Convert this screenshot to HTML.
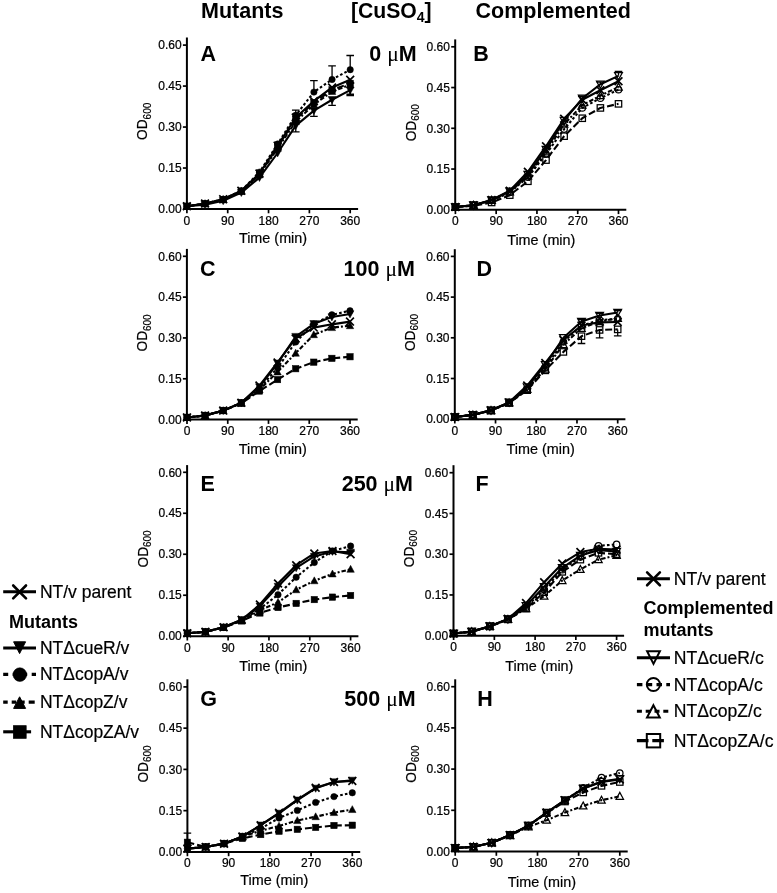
<!DOCTYPE html>
<html><head><meta charset="utf-8"><title>Growth curves</title><style>
html,body{margin:0;padding:0;background:#fff;}
svg{display:block;will-change:transform;}
text{font-family:"Liberation Sans",sans-serif;fill:#000;}
.tk{font-size:12px;stroke:#000;stroke-width:0.22px;}
.at{font-size:14.4px;stroke:#000;stroke-width:0.2px;}
.pl{font-size:21.5px;font-weight:bold;}
.mu{font-family:"Liberation Serif",serif;font-weight:normal;}
.tt{font-size:21.5px;font-weight:bold;}
.lg{font-size:17.5px;stroke:#000;stroke-width:0.2px;}
.lgr{font-size:17.6px;stroke:#000;stroke-width:0.2px;}
.lgb{font-size:18px;font-weight:bold;}
</style></head>
<body><svg width="777" height="893" viewBox="0 0 777 893">
<rect width="777" height="893" fill="#fff"/>
<text x="201" y="18.3" class="tt">Mutants</text><text x="350.9" y="18.3" class="tt" style="font-size:21.2px">[CuSO<tspan font-size="14" dy="4">4</tspan><tspan dy="-4">]</tspan></text><text x="475.6" y="18.3" class="tt">Complemented</text>
<text x="200.6" y="60.6" class="pl">A</text>
<text x="369.3" y="60.6" class="pl">0 <tspan class="mu">&#956;</tspan>M</text>
<text x="473.2" y="60.6" class="pl">B</text>
<text x="200.0" y="276.4" class="pl">C</text>
<text x="343.6" y="276.4" class="pl">100 <tspan class="mu">&#956;</tspan>M</text>
<text x="476.5" y="276.4" class="pl">D</text>
<text x="200.6" y="490.6" class="pl">E</text>
<text x="341.7" y="490.6" class="pl">250 <tspan class="mu">&#956;</tspan>M</text>
<text x="475.4" y="490.6" class="pl">F</text>
<text x="200.3" y="705.8" class="pl">G</text>
<text x="344.3" y="705.8" class="pl">500 <tspan class="mu">&#956;</tspan>M</text>
<text x="477.3" y="705.9" class="pl">H</text>
<path d="M3.2 591.8H36" stroke="#000" stroke-width="3.1"/>
<path d="M13.200000000000001 585.5L26.0 598.3M13.200000000000001 598.3L26.0 585.5" stroke="#000" stroke-width="2.6" stroke-linecap="round" fill="none"/>
<text x="39.9" y="597.9" class="lg">NT/v parent</text>
<text x="9" y="627.5" class="lgb">Mutants</text>
<path d="M3.2 648.0H36" stroke="#000" stroke-width="3.1"/>
<path d="M13.600000000000001 641.8H25.6L19.6 653.6Z" fill="#000" stroke="#000" stroke-width="1.0" stroke-linejoin="miter"/>
<text x="39.9" y="653.7" class="lg">NT&#916;cueR/v</text>
<path d="M3.2 674.4H36" stroke="#000" stroke-width="3.1" stroke-dasharray="5 4.5"/>
<circle cx="19.85" cy="674.6" r="6.8" fill="#000" stroke="#000" stroke-width="0.6"/>
<text x="39.9" y="680.3" class="lg">NT&#916;copA/v</text>
<path d="M3.2 702.1H34.7" stroke="#000" stroke-width="3.1" stroke-dasharray="4.5 4 4.5 4 4.5 4 6.3"/>
<path d="M13.600000000000001 708.4H25.6L19.6 696.8Z" fill="#000" stroke="#000" stroke-width="1.0" stroke-linejoin="miter"/>
<text x="39.9" y="708.1" class="lg">NT&#916;copZ/v</text>
<path d="M3.2 731.8H31.1" stroke="#000" stroke-width="3.1"/>
<rect x="13.55" y="725.7" width="12.6" height="12.6" fill="#000" stroke="#000" stroke-width="0.8"/>
<text x="39.9" y="737.7" class="lg">NT&#916;copZA/v</text>
<path d="M637.0 578.8H669.9" stroke="#000" stroke-width="3.1"/>
<path d="M647.1 572.45L659.9 585.25M647.1 585.25L659.9 572.45" stroke="#000" stroke-width="2.6" stroke-linecap="round" fill="none"/>
<text x="673.8" y="584.5" class="lgr">NT/v parent</text>
<text x="643.5" y="613.6" class="lgb">Complemented</text>
<text x="643.5" y="635.5" class="lgb">mutants</text>
<path d="M636.9 657.7H670.0" stroke="#000" stroke-width="3.1"/>
<path d="M647.1 651.2H659.9L653.5 663.9000000000001Z" fill="none" stroke="#000" stroke-width="2.0" stroke-linejoin="miter"/>
<text x="673.8" y="664.0" class="lgr">NT&#916;cueR/c</text>
<path d="M636.9 684.6H670.0" stroke="#000" stroke-width="3.1" stroke-dasharray="5.5 4.3"/>
<circle cx="653.4" cy="684.5" r="6.6" fill="none" stroke="#000" stroke-width="2.0"/>
<text x="673.8" y="690.6" class="lgr">NT&#916;copA/c</text>
<path d="M636.9 711.3H668.5" stroke="#000" stroke-width="3.1" stroke-dasharray="5 3.8"/>
<path d="M647.0 717.5999999999999H659.8L653.4 705.1999999999999Z" fill="none" stroke="#000" stroke-width="2.0" stroke-linejoin="miter"/>
<text x="673.8" y="717.0" class="lgr">NT&#916;copZ/c</text>
<path d="M636.9 740.6H665.0" stroke="#000" stroke-width="3.1" stroke-dasharray="11.6 3.8"/>
<rect x="646.8" y="734.0" width="13.4" height="13.4" fill="none" stroke="#000" stroke-width="2.0"/>
<text x="673.8" y="747.3" class="lgr">NT&#916;copZA/c</text>
<path d="M186.90 37.50V210.00" stroke="#000" stroke-width="2" fill="none"/>
<path d="M185.90 209.00H358.10" stroke="#000" stroke-width="2" fill="none"/>
<path d="M182.90 209.00H186.90" stroke="#000" stroke-width="1.7"/>
<text x="181.60" y="213.20" class="tk" text-anchor="end">0.00</text>
<path d="M182.90 168.03H186.90" stroke="#000" stroke-width="1.7"/>
<text x="181.60" y="172.22" class="tk" text-anchor="end">0.15</text>
<path d="M182.90 127.05H186.90" stroke="#000" stroke-width="1.7"/>
<text x="181.60" y="131.25" class="tk" text-anchor="end">0.30</text>
<path d="M182.90 86.07H186.90" stroke="#000" stroke-width="1.7"/>
<text x="181.60" y="90.27" class="tk" text-anchor="end">0.45</text>
<path d="M182.90 45.10H186.90" stroke="#000" stroke-width="1.7"/>
<text x="181.60" y="49.30" class="tk" text-anchor="end">0.60</text>
<path d="M186.90 209.00V213.30" stroke="#000" stroke-width="1.7"/>
<text x="186.90" y="224.50" class="tk" text-anchor="middle">0</text>
<path d="M227.72 209.00V213.30" stroke="#000" stroke-width="1.7"/>
<text x="227.72" y="224.50" class="tk" text-anchor="middle">90</text>
<path d="M268.55 209.00V213.30" stroke="#000" stroke-width="1.7"/>
<text x="268.55" y="224.50" class="tk" text-anchor="middle">180</text>
<path d="M309.38 209.00V213.30" stroke="#000" stroke-width="1.7"/>
<text x="309.38" y="224.50" class="tk" text-anchor="middle">270</text>
<path d="M350.20 209.00V213.30" stroke="#000" stroke-width="1.7"/>
<text x="350.20" y="224.50" class="tk" text-anchor="middle">360</text>
<text x="273.00" y="243.40" class="at" text-anchor="middle">Time (min)</text>
<text transform="translate(147.30 139.90) rotate(-90) scale(0.95 1)" class="at">OD<tspan font-size="10.5" dy="3.2">600</tspan></text>
<path d="M186.90 206.27L205.04 203.54L223.19 199.17L241.33 190.70L259.48 173.49L277.62 145.63L295.77 117.49L313.91 101.10L332.06 87.44L350.20 79.79" stroke="#000" stroke-width="2.1" fill="none" stroke-linejoin="round"/>
<path d="M186.90 206.27L205.04 204.63L223.19 200.81L241.33 192.61L259.48 177.59L277.62 153.00L295.77 125.68L313.91 110.66L332.06 99.73L350.20 90.17" stroke="#000" stroke-width="2.1" fill="none" stroke-linejoin="round"/>
<path d="M186.90 206.27L205.04 203.54L223.19 199.17L241.33 190.70L259.48 172.12L277.62 143.99L295.77 115.30L313.91 92.08L332.06 79.52L350.20 69.68" stroke="#000" stroke-width="2.1" fill="none" stroke-linejoin="round" stroke-dasharray="2.6 2.2"/>
<path d="M186.90 206.27L205.04 203.54L223.19 199.44L241.33 191.24L259.48 174.85L277.62 148.36L295.77 121.59L313.91 104.65L332.06 91.54L350.20 84.71" stroke="#000" stroke-width="2.1" fill="none" stroke-linejoin="round" stroke-dasharray="4.5 2 2 2"/>
<path d="M186.90 206.27L205.04 203.81L223.19 199.71L241.33 191.24L259.48 174.31L277.62 146.72L295.77 119.40L313.91 102.46L332.06 89.90L350.20 83.34" stroke="#000" stroke-width="2.1" fill="none" stroke-linejoin="round" stroke-dasharray="7 3"/>
<path d="M295.77 115.30V110.11M291.97 110.11H299.57" stroke="#000" stroke-width="1.3" fill="none"/>
<path d="M313.91 92.08V80.61M310.11 80.61H317.71" stroke="#000" stroke-width="1.3" fill="none"/>
<path d="M332.06 79.52V65.86M328.26 65.86H335.86" stroke="#000" stroke-width="1.3" fill="none"/>
<path d="M350.20 69.68V55.48M346.40 55.48H354.00" stroke="#000" stroke-width="1.3" fill="none"/>
<path d="M295.77 125.68V131.97M291.97 131.97H299.57" stroke="#000" stroke-width="1.3" fill="none"/>
<path d="M313.91 110.66V116.40M310.11 116.40H317.71" stroke="#000" stroke-width="1.3" fill="none"/>
<path d="M332.06 99.73V105.47M328.26 105.47H335.86" stroke="#000" stroke-width="1.3" fill="none"/>
<path d="M350.20 90.17V94.27M346.40 94.27H354.00" stroke="#000" stroke-width="1.3" fill="none"/>
<path d="M350.20 83.34V95.64M346.40 95.64H354.00" stroke="#000" stroke-width="1.3" fill="none"/>
<rect x="183.70" y="203.07" width="6.40" height="6.40" fill="#000" stroke="#000" stroke-width="0.50"/>
<rect x="201.84" y="200.61" width="6.40" height="6.40" fill="#000" stroke="#000" stroke-width="0.50"/>
<rect x="219.99" y="196.51" width="6.40" height="6.40" fill="#000" stroke="#000" stroke-width="0.50"/>
<rect x="238.13" y="188.04" width="6.40" height="6.40" fill="#000" stroke="#000" stroke-width="0.50"/>
<rect x="256.28" y="171.11" width="6.40" height="6.40" fill="#000" stroke="#000" stroke-width="0.50"/>
<rect x="274.42" y="143.52" width="6.40" height="6.40" fill="#000" stroke="#000" stroke-width="0.50"/>
<rect x="292.57" y="116.20" width="6.40" height="6.40" fill="#000" stroke="#000" stroke-width="0.50"/>
<rect x="310.71" y="99.26" width="6.40" height="6.40" fill="#000" stroke="#000" stroke-width="0.50"/>
<rect x="328.86" y="86.70" width="6.40" height="6.40" fill="#000" stroke="#000" stroke-width="0.50"/>
<rect x="347.00" y="80.14" width="6.40" height="6.40" fill="#000" stroke="#000" stroke-width="0.50"/>
<path d="M183.20 209.27L190.60 209.27L186.90 202.37Z" fill="#000" stroke="#000" stroke-width="0.50"/>
<path d="M201.34 206.54L208.74 206.54L205.04 199.64Z" fill="#000" stroke="#000" stroke-width="0.50"/>
<path d="M219.49 202.44L226.89 202.44L223.19 195.54Z" fill="#000" stroke="#000" stroke-width="0.50"/>
<path d="M237.63 194.24L245.03 194.24L241.33 187.34Z" fill="#000" stroke="#000" stroke-width="0.50"/>
<path d="M255.78 177.85L263.18 177.85L259.48 170.95Z" fill="#000" stroke="#000" stroke-width="0.50"/>
<path d="M273.92 151.36L281.32 151.36L277.62 144.46Z" fill="#000" stroke="#000" stroke-width="0.50"/>
<path d="M292.07 124.59L299.47 124.59L295.77 117.69Z" fill="#000" stroke="#000" stroke-width="0.50"/>
<path d="M310.21 107.65L317.61 107.65L313.91 100.75Z" fill="#000" stroke="#000" stroke-width="0.50"/>
<path d="M328.36 94.54L335.76 94.54L332.06 87.64Z" fill="#000" stroke="#000" stroke-width="0.50"/>
<path d="M346.50 87.71L353.90 87.71L350.20 80.81Z" fill="#000" stroke="#000" stroke-width="0.50"/>
<circle cx="186.90" cy="206.27" r="3.20" fill="#000" stroke="#000" stroke-width="0.50"/>
<circle cx="205.04" cy="203.54" r="3.20" fill="#000" stroke="#000" stroke-width="0.50"/>
<circle cx="223.19" cy="199.17" r="3.20" fill="#000" stroke="#000" stroke-width="0.50"/>
<circle cx="241.33" cy="190.70" r="3.20" fill="#000" stroke="#000" stroke-width="0.50"/>
<circle cx="259.48" cy="172.12" r="3.20" fill="#000" stroke="#000" stroke-width="0.50"/>
<circle cx="277.62" cy="143.99" r="3.20" fill="#000" stroke="#000" stroke-width="0.50"/>
<circle cx="295.77" cy="115.30" r="3.20" fill="#000" stroke="#000" stroke-width="0.50"/>
<circle cx="313.91" cy="92.08" r="3.20" fill="#000" stroke="#000" stroke-width="0.50"/>
<circle cx="332.06" cy="79.52" r="3.20" fill="#000" stroke="#000" stroke-width="0.50"/>
<circle cx="350.20" cy="69.68" r="3.20" fill="#000" stroke="#000" stroke-width="0.50"/>
<path d="M183.00 203.07L190.80 203.07L186.90 210.17Z" fill="#000" stroke="#000" stroke-width="0.50"/>
<path d="M201.14 201.43L208.94 201.43L205.04 208.53Z" fill="#000" stroke="#000" stroke-width="0.50"/>
<path d="M219.29 197.61L227.09 197.61L223.19 204.71Z" fill="#000" stroke="#000" stroke-width="0.50"/>
<path d="M237.43 189.41L245.23 189.41L241.33 196.51Z" fill="#000" stroke="#000" stroke-width="0.50"/>
<path d="M255.58 174.39L263.38 174.39L259.48 181.49Z" fill="#000" stroke="#000" stroke-width="0.50"/>
<path d="M273.72 149.80L281.52 149.80L277.62 156.90Z" fill="#000" stroke="#000" stroke-width="0.50"/>
<path d="M291.87 122.48L299.67 122.48L295.77 129.58Z" fill="#000" stroke="#000" stroke-width="0.50"/>
<path d="M310.01 107.46L317.81 107.46L313.91 114.56Z" fill="#000" stroke="#000" stroke-width="0.50"/>
<path d="M328.16 96.53L335.96 96.53L332.06 103.63Z" fill="#000" stroke="#000" stroke-width="0.50"/>
<path d="M346.30 86.97L354.10 86.97L350.20 94.07Z" fill="#000" stroke="#000" stroke-width="0.50"/>
<path d="M183.00 202.37L190.80 210.17M183.00 210.17L190.80 202.37" stroke="#000" stroke-width="1.70" fill="none"/>
<path d="M201.14 199.64L208.94 207.44M201.14 207.44L208.94 199.64" stroke="#000" stroke-width="1.70" fill="none"/>
<path d="M219.29 195.27L227.09 203.07M219.29 203.07L227.09 195.27" stroke="#000" stroke-width="1.70" fill="none"/>
<path d="M237.43 186.80L245.23 194.60M237.43 194.60L245.23 186.80" stroke="#000" stroke-width="1.70" fill="none"/>
<path d="M255.58 169.59L263.38 177.39M255.58 177.39L263.38 169.59" stroke="#000" stroke-width="1.70" fill="none"/>
<path d="M273.72 141.73L281.52 149.53M273.72 149.53L281.52 141.73" stroke="#000" stroke-width="1.70" fill="none"/>
<path d="M291.87 113.59L299.67 121.39M291.87 121.39L299.67 113.59" stroke="#000" stroke-width="1.70" fill="none"/>
<path d="M310.01 97.20L317.81 105.00M310.01 105.00L317.81 97.20" stroke="#000" stroke-width="1.70" fill="none"/>
<path d="M328.16 83.54L335.96 91.34M328.16 91.34L335.96 83.54" stroke="#000" stroke-width="1.70" fill="none"/>
<path d="M346.30 75.89L354.10 83.69M346.30 83.69L354.10 75.89" stroke="#000" stroke-width="1.70" fill="none"/>
<path d="M455.20 39.40V210.80" stroke="#000" stroke-width="2" fill="none"/>
<path d="M454.20 209.80H626.30" stroke="#000" stroke-width="2" fill="none"/>
<path d="M451.20 209.80H455.20" stroke="#000" stroke-width="1.7"/>
<text x="449.90" y="214.00" class="tk" text-anchor="end">0.00</text>
<path d="M451.20 169.05H455.20" stroke="#000" stroke-width="1.7"/>
<text x="449.90" y="173.25" class="tk" text-anchor="end">0.15</text>
<path d="M451.20 128.30H455.20" stroke="#000" stroke-width="1.7"/>
<text x="449.90" y="132.50" class="tk" text-anchor="end">0.30</text>
<path d="M451.20 87.55H455.20" stroke="#000" stroke-width="1.7"/>
<text x="449.90" y="91.75" class="tk" text-anchor="end">0.45</text>
<path d="M451.20 46.80H455.20" stroke="#000" stroke-width="1.7"/>
<text x="449.90" y="51.00" class="tk" text-anchor="end">0.60</text>
<path d="M455.40 209.80V214.10" stroke="#000" stroke-width="1.7"/>
<text x="455.40" y="225.30" class="tk" text-anchor="middle">0</text>
<path d="M496.17 209.80V214.10" stroke="#000" stroke-width="1.7"/>
<text x="496.17" y="225.30" class="tk" text-anchor="middle">90</text>
<path d="M536.95 209.80V214.10" stroke="#000" stroke-width="1.7"/>
<text x="536.95" y="225.30" class="tk" text-anchor="middle">180</text>
<path d="M577.73 209.80V214.10" stroke="#000" stroke-width="1.7"/>
<text x="577.73" y="225.30" class="tk" text-anchor="middle">270</text>
<path d="M618.50 209.80V214.10" stroke="#000" stroke-width="1.7"/>
<text x="618.50" y="225.30" class="tk" text-anchor="middle">360</text>
<text x="541.25" y="244.50" class="at" text-anchor="middle">Time (min)</text>
<text transform="translate(415.60 141.30) rotate(-90) scale(0.95 1)" class="at">OD<tspan font-size="10.5" dy="3.2">600</tspan></text>
<path d="M455.40 207.08L473.52 205.18L491.64 200.02L509.77 190.78L527.89 171.77L546.01 146.23L564.13 118.79L582.26 99.77L600.38 90.27L618.50 81.30" stroke="#000" stroke-width="2.1" fill="none" stroke-linejoin="round"/>
<path d="M455.40 207.08L473.52 205.18L491.64 200.02L509.77 191.33L527.89 174.48L546.01 149.49L564.13 120.69L582.26 98.42L600.38 84.29L618.50 75.87" stroke="#000" stroke-width="2.1" fill="none" stroke-linejoin="round"/>
<path d="M455.40 207.08L473.52 205.18L491.64 200.56L509.77 192.41L527.89 177.20L546.01 154.11L564.13 129.12L582.26 107.93L600.38 98.15L618.50 89.72" stroke="#000" stroke-width="2.1" fill="none" stroke-linejoin="round" stroke-dasharray="2.6 2.2"/>
<path d="M455.40 207.08L473.52 205.18L491.64 200.29L509.77 191.87L527.89 175.84L546.01 151.94L564.13 124.23L582.26 105.21L600.38 95.70L618.50 87.01" stroke="#000" stroke-width="2.1" fill="none" stroke-linejoin="round" stroke-dasharray="4.5 2 2 2"/>
<path d="M455.40 207.08L473.52 205.73L491.64 202.47L509.77 195.13L527.89 181.28L546.01 160.09L564.13 136.18L582.26 118.25L600.38 107.93L618.50 103.85" stroke="#000" stroke-width="2.1" fill="none" stroke-linejoin="round" stroke-dasharray="7 3"/>
<path d="M618.50 75.87V71.52M614.70 71.52H622.30" stroke="#000" stroke-width="1.3" fill="none"/>
<path d="M600.38 84.29V82.12M596.58 82.12H604.18" stroke="#000" stroke-width="1.3" fill="none"/>
<path d="M582.26 98.42V96.24M578.46 96.24H586.06" stroke="#000" stroke-width="1.3" fill="none"/>
<rect x="452.20" y="203.88" width="6.40" height="6.40" fill="none" stroke="#000" stroke-width="1.25"/>
<rect x="470.32" y="202.53" width="6.40" height="6.40" fill="none" stroke="#000" stroke-width="1.25"/>
<rect x="488.44" y="199.27" width="6.40" height="6.40" fill="none" stroke="#000" stroke-width="1.25"/>
<rect x="506.57" y="191.93" width="6.40" height="6.40" fill="none" stroke="#000" stroke-width="1.25"/>
<rect x="524.69" y="178.08" width="6.40" height="6.40" fill="none" stroke="#000" stroke-width="1.25"/>
<rect x="542.81" y="156.89" width="6.40" height="6.40" fill="none" stroke="#000" stroke-width="1.25"/>
<rect x="560.93" y="132.98" width="6.40" height="6.40" fill="none" stroke="#000" stroke-width="1.25"/>
<rect x="579.06" y="115.05" width="6.40" height="6.40" fill="none" stroke="#000" stroke-width="1.25"/>
<rect x="597.18" y="104.73" width="6.40" height="6.40" fill="none" stroke="#000" stroke-width="1.25"/>
<rect x="615.30" y="100.65" width="6.40" height="6.40" fill="none" stroke="#000" stroke-width="1.25"/>
<path d="M451.70 210.08L459.10 210.08L455.40 203.18Z" fill="none" stroke="#000" stroke-width="1.25"/>
<path d="M469.82 208.18L477.22 208.18L473.52 201.28Z" fill="none" stroke="#000" stroke-width="1.25"/>
<path d="M487.94 203.29L495.34 203.29L491.64 196.39Z" fill="none" stroke="#000" stroke-width="1.25"/>
<path d="M506.07 194.87L513.47 194.87L509.77 187.97Z" fill="none" stroke="#000" stroke-width="1.25"/>
<path d="M524.19 178.84L531.59 178.84L527.89 171.94Z" fill="none" stroke="#000" stroke-width="1.25"/>
<path d="M542.31 154.94L549.71 154.94L546.01 148.03Z" fill="none" stroke="#000" stroke-width="1.25"/>
<path d="M560.43 127.23L567.83 127.23L564.13 120.33Z" fill="none" stroke="#000" stroke-width="1.25"/>
<path d="M578.56 108.21L585.96 108.21L582.26 101.31Z" fill="none" stroke="#000" stroke-width="1.25"/>
<path d="M596.68 98.70L604.08 98.70L600.38 91.80Z" fill="none" stroke="#000" stroke-width="1.25"/>
<path d="M614.80 90.01L622.20 90.01L618.50 83.11Z" fill="none" stroke="#000" stroke-width="1.25"/>
<circle cx="455.40" cy="207.08" r="3.20" fill="none" stroke="#000" stroke-width="1.25"/>
<circle cx="473.52" cy="205.18" r="3.20" fill="none" stroke="#000" stroke-width="1.25"/>
<circle cx="491.64" cy="200.56" r="3.20" fill="none" stroke="#000" stroke-width="1.25"/>
<circle cx="509.77" cy="192.41" r="3.20" fill="none" stroke="#000" stroke-width="1.25"/>
<circle cx="527.89" cy="177.20" r="3.20" fill="none" stroke="#000" stroke-width="1.25"/>
<circle cx="546.01" cy="154.11" r="3.20" fill="none" stroke="#000" stroke-width="1.25"/>
<circle cx="564.13" cy="129.12" r="3.20" fill="none" stroke="#000" stroke-width="1.25"/>
<circle cx="582.26" cy="107.93" r="3.20" fill="none" stroke="#000" stroke-width="1.25"/>
<circle cx="600.38" cy="98.15" r="3.20" fill="none" stroke="#000" stroke-width="1.25"/>
<circle cx="618.50" cy="89.72" r="3.20" fill="none" stroke="#000" stroke-width="1.25"/>
<path d="M451.50 203.88L459.30 203.88L455.40 210.98Z" fill="none" stroke="#000" stroke-width="1.25"/>
<path d="M469.62 201.98L477.42 201.98L473.52 209.08Z" fill="none" stroke="#000" stroke-width="1.25"/>
<path d="M487.74 196.82L495.54 196.82L491.64 203.92Z" fill="none" stroke="#000" stroke-width="1.25"/>
<path d="M505.87 188.13L513.67 188.13L509.77 195.23Z" fill="none" stroke="#000" stroke-width="1.25"/>
<path d="M523.99 171.28L531.79 171.28L527.89 178.38Z" fill="none" stroke="#000" stroke-width="1.25"/>
<path d="M542.11 146.29L549.91 146.29L546.01 153.39Z" fill="none" stroke="#000" stroke-width="1.25"/>
<path d="M560.23 117.49L568.03 117.49L564.13 124.59Z" fill="none" stroke="#000" stroke-width="1.25"/>
<path d="M578.36 95.22L586.16 95.22L582.26 102.32Z" fill="none" stroke="#000" stroke-width="1.25"/>
<path d="M596.48 81.09L604.28 81.09L600.38 88.19Z" fill="none" stroke="#000" stroke-width="1.25"/>
<path d="M614.60 72.67L622.40 72.67L618.50 79.77Z" fill="none" stroke="#000" stroke-width="1.25"/>
<path d="M451.50 203.18L459.30 210.98M451.50 210.98L459.30 203.18" stroke="#000" stroke-width="1.70" fill="none"/>
<path d="M469.62 201.28L477.42 209.08M469.62 209.08L477.42 201.28" stroke="#000" stroke-width="1.70" fill="none"/>
<path d="M487.74 196.12L495.54 203.92M487.74 203.92L495.54 196.12" stroke="#000" stroke-width="1.70" fill="none"/>
<path d="M505.87 186.88L513.67 194.68M505.87 194.68L513.67 186.88" stroke="#000" stroke-width="1.70" fill="none"/>
<path d="M523.99 167.87L531.79 175.67M523.99 175.67L531.79 167.87" stroke="#000" stroke-width="1.70" fill="none"/>
<path d="M542.11 142.33L549.91 150.13M542.11 150.13L549.91 142.33" stroke="#000" stroke-width="1.70" fill="none"/>
<path d="M560.23 114.89L568.03 122.69M560.23 122.69L568.03 114.89" stroke="#000" stroke-width="1.70" fill="none"/>
<path d="M578.36 95.87L586.16 103.67M578.36 103.67L586.16 95.87" stroke="#000" stroke-width="1.70" fill="none"/>
<path d="M596.48 86.37L604.28 94.17M596.48 94.17L604.28 86.37" stroke="#000" stroke-width="1.70" fill="none"/>
<path d="M614.60 77.40L622.40 85.20M614.60 85.20L622.40 77.40" stroke="#000" stroke-width="1.70" fill="none"/>
<path d="M186.90 248.90V420.60" stroke="#000" stroke-width="2" fill="none"/>
<path d="M185.90 419.60H357.70" stroke="#000" stroke-width="2" fill="none"/>
<path d="M182.90 419.60H186.90" stroke="#000" stroke-width="1.7"/>
<text x="181.60" y="423.80" class="tk" text-anchor="end">0.00</text>
<path d="M182.90 378.78H186.90" stroke="#000" stroke-width="1.7"/>
<text x="181.60" y="382.98" class="tk" text-anchor="end">0.15</text>
<path d="M182.90 337.95H186.90" stroke="#000" stroke-width="1.7"/>
<text x="181.60" y="342.15" class="tk" text-anchor="end">0.30</text>
<path d="M182.90 297.12H186.90" stroke="#000" stroke-width="1.7"/>
<text x="181.60" y="301.32" class="tk" text-anchor="end">0.45</text>
<path d="M182.90 256.30H186.90" stroke="#000" stroke-width="1.7"/>
<text x="181.60" y="260.50" class="tk" text-anchor="end">0.60</text>
<path d="M187.00 419.60V423.90" stroke="#000" stroke-width="1.7"/>
<text x="187.00" y="435.10" class="tk" text-anchor="middle">0</text>
<path d="M227.75 419.60V423.90" stroke="#000" stroke-width="1.7"/>
<text x="227.75" y="435.10" class="tk" text-anchor="middle">90</text>
<path d="M268.50 419.60V423.90" stroke="#000" stroke-width="1.7"/>
<text x="268.50" y="435.10" class="tk" text-anchor="middle">180</text>
<path d="M309.25 419.60V423.90" stroke="#000" stroke-width="1.7"/>
<text x="309.25" y="435.10" class="tk" text-anchor="middle">270</text>
<path d="M350.00 419.60V423.90" stroke="#000" stroke-width="1.7"/>
<text x="350.00" y="435.10" class="tk" text-anchor="middle">360</text>
<text x="272.80" y="454.10" class="at" text-anchor="middle">Time (min)</text>
<text transform="translate(147.30 351.50) rotate(-90) scale(0.95 1)" class="at">OD<tspan font-size="10.5" dy="3.2">600</tspan></text>
<path d="M187.00 417.42L205.11 415.52L223.22 410.62L241.33 402.73L259.44 385.58L277.56 362.45L295.67 338.49L313.78 327.61L331.89 324.34L350.00 321.62" stroke="#000" stroke-width="2.1" fill="none" stroke-linejoin="round"/>
<path d="M187.00 417.42L205.11 415.52L223.22 410.62L241.33 402.73L259.44 386.94L277.56 363.26L295.67 336.59L313.78 323.80L331.89 316.99L350.00 314.00" stroke="#000" stroke-width="2.1" fill="none" stroke-linejoin="round"/>
<path d="M187.00 417.42L205.11 415.52L223.22 410.62L241.33 402.73L259.44 388.30L277.56 367.89L295.67 342.03L313.78 324.07L331.89 314.82L350.00 310.73" stroke="#000" stroke-width="2.1" fill="none" stroke-linejoin="round" stroke-dasharray="2.6 2.2"/>
<path d="M187.00 417.42L205.11 415.52L223.22 410.62L241.33 403.27L259.44 389.66L277.56 371.97L295.67 353.19L313.78 334.68L331.89 327.61L350.00 325.70" stroke="#000" stroke-width="2.1" fill="none" stroke-linejoin="round" stroke-dasharray="4.5 2 2 2"/>
<path d="M187.00 417.42L205.11 415.52L223.22 410.62L241.33 403.27L259.44 391.02L277.56 379.59L295.67 368.70L313.78 362.17L331.89 358.36L350.00 356.73" stroke="#000" stroke-width="2.1" fill="none" stroke-linejoin="round" stroke-dasharray="7 3"/>
<rect x="183.80" y="414.22" width="6.40" height="6.40" fill="#000" stroke="#000" stroke-width="0.50"/>
<rect x="201.91" y="412.32" width="6.40" height="6.40" fill="#000" stroke="#000" stroke-width="0.50"/>
<rect x="220.02" y="407.42" width="6.40" height="6.40" fill="#000" stroke="#000" stroke-width="0.50"/>
<rect x="238.13" y="400.07" width="6.40" height="6.40" fill="#000" stroke="#000" stroke-width="0.50"/>
<rect x="256.24" y="387.82" width="6.40" height="6.40" fill="#000" stroke="#000" stroke-width="0.50"/>
<rect x="274.36" y="376.39" width="6.40" height="6.40" fill="#000" stroke="#000" stroke-width="0.50"/>
<rect x="292.47" y="365.50" width="6.40" height="6.40" fill="#000" stroke="#000" stroke-width="0.50"/>
<rect x="310.58" y="358.97" width="6.40" height="6.40" fill="#000" stroke="#000" stroke-width="0.50"/>
<rect x="328.69" y="355.16" width="6.40" height="6.40" fill="#000" stroke="#000" stroke-width="0.50"/>
<rect x="346.80" y="353.53" width="6.40" height="6.40" fill="#000" stroke="#000" stroke-width="0.50"/>
<path d="M183.30 420.42L190.70 420.42L187.00 413.52Z" fill="#000" stroke="#000" stroke-width="0.50"/>
<path d="M201.41 418.52L208.81 418.52L205.11 411.62Z" fill="#000" stroke="#000" stroke-width="0.50"/>
<path d="M219.52 413.62L226.92 413.62L223.22 406.72Z" fill="#000" stroke="#000" stroke-width="0.50"/>
<path d="M237.63 406.27L245.03 406.27L241.33 399.37Z" fill="#000" stroke="#000" stroke-width="0.50"/>
<path d="M255.74 392.66L263.14 392.66L259.44 385.76Z" fill="#000" stroke="#000" stroke-width="0.50"/>
<path d="M273.86 374.97L281.26 374.97L277.56 368.07Z" fill="#000" stroke="#000" stroke-width="0.50"/>
<path d="M291.97 356.19L299.37 356.19L295.67 349.29Z" fill="#000" stroke="#000" stroke-width="0.50"/>
<path d="M310.08 337.68L317.48 337.68L313.78 330.78Z" fill="#000" stroke="#000" stroke-width="0.50"/>
<path d="M328.19 330.61L335.59 330.61L331.89 323.71Z" fill="#000" stroke="#000" stroke-width="0.50"/>
<path d="M346.30 328.70L353.70 328.70L350.00 321.80Z" fill="#000" stroke="#000" stroke-width="0.50"/>
<circle cx="187.00" cy="417.42" r="3.20" fill="#000" stroke="#000" stroke-width="0.50"/>
<circle cx="205.11" cy="415.52" r="3.20" fill="#000" stroke="#000" stroke-width="0.50"/>
<circle cx="223.22" cy="410.62" r="3.20" fill="#000" stroke="#000" stroke-width="0.50"/>
<circle cx="241.33" cy="402.73" r="3.20" fill="#000" stroke="#000" stroke-width="0.50"/>
<circle cx="259.44" cy="388.30" r="3.20" fill="#000" stroke="#000" stroke-width="0.50"/>
<circle cx="277.56" cy="367.89" r="3.20" fill="#000" stroke="#000" stroke-width="0.50"/>
<circle cx="295.67" cy="342.03" r="3.20" fill="#000" stroke="#000" stroke-width="0.50"/>
<circle cx="313.78" cy="324.07" r="3.20" fill="#000" stroke="#000" stroke-width="0.50"/>
<circle cx="331.89" cy="314.82" r="3.20" fill="#000" stroke="#000" stroke-width="0.50"/>
<circle cx="350.00" cy="310.73" r="3.20" fill="#000" stroke="#000" stroke-width="0.50"/>
<path d="M183.10 414.22L190.90 414.22L187.00 421.32Z" fill="#000" stroke="#000" stroke-width="0.50"/>
<path d="M201.21 412.32L209.01 412.32L205.11 419.42Z" fill="#000" stroke="#000" stroke-width="0.50"/>
<path d="M219.32 407.42L227.12 407.42L223.22 414.52Z" fill="#000" stroke="#000" stroke-width="0.50"/>
<path d="M237.43 399.53L245.23 399.53L241.33 406.63Z" fill="#000" stroke="#000" stroke-width="0.50"/>
<path d="M255.54 383.74L263.34 383.74L259.44 390.84Z" fill="#000" stroke="#000" stroke-width="0.50"/>
<path d="M273.66 360.06L281.46 360.06L277.56 367.16Z" fill="#000" stroke="#000" stroke-width="0.50"/>
<path d="M291.77 333.39L299.57 333.39L295.67 340.49Z" fill="#000" stroke="#000" stroke-width="0.50"/>
<path d="M309.88 320.60L317.68 320.60L313.78 327.70Z" fill="#000" stroke="#000" stroke-width="0.50"/>
<path d="M327.99 313.79L335.79 313.79L331.89 320.89Z" fill="#000" stroke="#000" stroke-width="0.50"/>
<path d="M346.10 310.80L353.90 310.80L350.00 317.90Z" fill="#000" stroke="#000" stroke-width="0.50"/>
<path d="M183.10 413.52L190.90 421.32M183.10 421.32L190.90 413.52" stroke="#000" stroke-width="1.70" fill="none"/>
<path d="M201.21 411.62L209.01 419.42M201.21 419.42L209.01 411.62" stroke="#000" stroke-width="1.70" fill="none"/>
<path d="M219.32 406.72L227.12 414.52M219.32 414.52L227.12 406.72" stroke="#000" stroke-width="1.70" fill="none"/>
<path d="M237.43 398.83L245.23 406.63M237.43 406.63L245.23 398.83" stroke="#000" stroke-width="1.70" fill="none"/>
<path d="M255.54 381.68L263.34 389.48M255.54 389.48L263.34 381.68" stroke="#000" stroke-width="1.70" fill="none"/>
<path d="M273.66 358.55L281.46 366.35M273.66 366.35L281.46 358.55" stroke="#000" stroke-width="1.70" fill="none"/>
<path d="M291.77 334.59L299.57 342.39M291.77 342.39L299.57 334.59" stroke="#000" stroke-width="1.70" fill="none"/>
<path d="M309.88 323.71L317.68 331.51M309.88 331.51L317.68 323.71" stroke="#000" stroke-width="1.70" fill="none"/>
<path d="M327.99 320.44L335.79 328.24M327.99 328.24L335.79 320.44" stroke="#000" stroke-width="1.70" fill="none"/>
<path d="M346.10 317.72L353.90 325.52M346.10 325.52L353.90 317.72" stroke="#000" stroke-width="1.70" fill="none"/>
<path d="M454.80 249.20V420.20" stroke="#000" stroke-width="2" fill="none"/>
<path d="M453.80 419.20H625.40" stroke="#000" stroke-width="2" fill="none"/>
<path d="M450.80 419.20H454.80" stroke="#000" stroke-width="1.7"/>
<text x="449.50" y="423.40" class="tk" text-anchor="end">0.00</text>
<path d="M450.80 378.50H454.80" stroke="#000" stroke-width="1.7"/>
<text x="449.50" y="382.70" class="tk" text-anchor="end">0.15</text>
<path d="M450.80 337.80H454.80" stroke="#000" stroke-width="1.7"/>
<text x="449.50" y="342.00" class="tk" text-anchor="end">0.30</text>
<path d="M450.80 297.10H454.80" stroke="#000" stroke-width="1.7"/>
<text x="449.50" y="301.30" class="tk" text-anchor="end">0.45</text>
<path d="M450.80 256.40H454.80" stroke="#000" stroke-width="1.7"/>
<text x="449.50" y="260.60" class="tk" text-anchor="end">0.60</text>
<path d="M454.80 419.20V423.50" stroke="#000" stroke-width="1.7"/>
<text x="454.80" y="434.70" class="tk" text-anchor="middle">0</text>
<path d="M495.53 419.20V423.50" stroke="#000" stroke-width="1.7"/>
<text x="495.53" y="434.70" class="tk" text-anchor="middle">90</text>
<path d="M536.25 419.20V423.50" stroke="#000" stroke-width="1.7"/>
<text x="536.25" y="434.70" class="tk" text-anchor="middle">180</text>
<path d="M576.98 419.20V423.50" stroke="#000" stroke-width="1.7"/>
<text x="576.98" y="434.70" class="tk" text-anchor="middle">270</text>
<path d="M617.70 419.20V423.50" stroke="#000" stroke-width="1.7"/>
<text x="617.70" y="434.70" class="tk" text-anchor="middle">360</text>
<text x="540.60" y="454.10" class="at" text-anchor="middle">Time (min)</text>
<text transform="translate(415.20 351.10) rotate(-90) scale(0.95 1)" class="at">OD<tspan font-size="10.5" dy="3.2">600</tspan></text>
<path d="M454.80 417.03L472.90 414.86L491.00 410.25L509.10 402.38L527.20 385.55L545.30 363.03L563.40 339.97L581.50 325.59L599.60 322.33L617.70 322.06" stroke="#000" stroke-width="2.1" fill="none" stroke-linejoin="round"/>
<path d="M454.80 417.03L472.90 414.86L491.00 410.25L509.10 402.38L527.20 387.18L545.30 364.93L563.40 337.80L581.50 321.52L599.60 315.55L617.70 312.57" stroke="#000" stroke-width="2.1" fill="none" stroke-linejoin="round"/>
<path d="M454.80 417.03L472.90 414.86L491.00 410.52L509.10 402.92L527.20 388.81L545.30 367.65L563.40 341.87L581.50 325.59L599.60 320.16L617.70 318.81" stroke="#000" stroke-width="2.1" fill="none" stroke-linejoin="round" stroke-dasharray="2.6 2.2"/>
<path d="M454.80 417.03L472.90 414.86L491.00 410.52L509.10 402.92L527.20 389.35L545.30 369.00L563.40 344.58L581.50 328.30L599.60 321.52L617.70 318.26" stroke="#000" stroke-width="2.1" fill="none" stroke-linejoin="round" stroke-dasharray="4.5 2 2 2"/>
<path d="M454.80 417.03L472.90 414.86L491.00 410.52L509.10 402.92L527.20 390.17L545.30 370.36L563.40 351.91L581.50 336.17L599.60 329.93L617.70 329.39" stroke="#000" stroke-width="2.1" fill="none" stroke-linejoin="round" stroke-dasharray="7 3"/>
<path d="M581.50 336.17V343.50M577.70 343.50H585.30" stroke="#000" stroke-width="1.3" fill="none"/>
<path d="M599.60 329.93V337.80M595.80 337.80H603.40" stroke="#000" stroke-width="1.3" fill="none"/>
<path d="M617.70 329.39V335.90M613.90 335.90H621.50" stroke="#000" stroke-width="1.3" fill="none"/>
<path d="M617.70 312.57V310.67M613.90 310.67H621.50" stroke="#000" stroke-width="1.3" fill="none"/>
<path d="M599.60 315.55V313.38M595.80 313.38H603.40" stroke="#000" stroke-width="1.3" fill="none"/>
<path d="M581.50 321.52V319.62M577.70 319.62H585.30" stroke="#000" stroke-width="1.3" fill="none"/>
<rect x="451.60" y="413.83" width="6.40" height="6.40" fill="none" stroke="#000" stroke-width="1.25"/>
<rect x="469.70" y="411.66" width="6.40" height="6.40" fill="none" stroke="#000" stroke-width="1.25"/>
<rect x="487.80" y="407.32" width="6.40" height="6.40" fill="none" stroke="#000" stroke-width="1.25"/>
<rect x="505.90" y="399.72" width="6.40" height="6.40" fill="none" stroke="#000" stroke-width="1.25"/>
<rect x="524.00" y="386.97" width="6.40" height="6.40" fill="none" stroke="#000" stroke-width="1.25"/>
<rect x="542.10" y="367.16" width="6.40" height="6.40" fill="none" stroke="#000" stroke-width="1.25"/>
<rect x="560.20" y="348.71" width="6.40" height="6.40" fill="none" stroke="#000" stroke-width="1.25"/>
<rect x="578.30" y="332.97" width="6.40" height="6.40" fill="none" stroke="#000" stroke-width="1.25"/>
<rect x="596.40" y="326.73" width="6.40" height="6.40" fill="none" stroke="#000" stroke-width="1.25"/>
<rect x="614.50" y="326.19" width="6.40" height="6.40" fill="none" stroke="#000" stroke-width="1.25"/>
<path d="M451.10 420.03L458.50 420.03L454.80 413.13Z" fill="none" stroke="#000" stroke-width="1.25"/>
<path d="M469.20 417.86L476.60 417.86L472.90 410.96Z" fill="none" stroke="#000" stroke-width="1.25"/>
<path d="M487.30 413.52L494.70 413.52L491.00 406.62Z" fill="none" stroke="#000" stroke-width="1.25"/>
<path d="M505.40 405.92L512.80 405.92L509.10 399.02Z" fill="none" stroke="#000" stroke-width="1.25"/>
<path d="M523.50 392.35L530.90 392.35L527.20 385.45Z" fill="none" stroke="#000" stroke-width="1.25"/>
<path d="M541.60 372.00L549.00 372.00L545.30 365.10Z" fill="none" stroke="#000" stroke-width="1.25"/>
<path d="M559.70 347.58L567.10 347.58L563.40 340.68Z" fill="none" stroke="#000" stroke-width="1.25"/>
<path d="M577.80 331.30L585.20 331.30L581.50 324.40Z" fill="none" stroke="#000" stroke-width="1.25"/>
<path d="M595.90 324.52L603.30 324.52L599.60 317.62Z" fill="none" stroke="#000" stroke-width="1.25"/>
<path d="M614.00 321.26L621.40 321.26L617.70 314.36Z" fill="none" stroke="#000" stroke-width="1.25"/>
<circle cx="454.80" cy="417.03" r="3.20" fill="none" stroke="#000" stroke-width="1.25"/>
<circle cx="472.90" cy="414.86" r="3.20" fill="none" stroke="#000" stroke-width="1.25"/>
<circle cx="491.00" cy="410.52" r="3.20" fill="none" stroke="#000" stroke-width="1.25"/>
<circle cx="509.10" cy="402.92" r="3.20" fill="none" stroke="#000" stroke-width="1.25"/>
<circle cx="527.20" cy="388.81" r="3.20" fill="none" stroke="#000" stroke-width="1.25"/>
<circle cx="545.30" cy="367.65" r="3.20" fill="none" stroke="#000" stroke-width="1.25"/>
<circle cx="563.40" cy="341.87" r="3.20" fill="none" stroke="#000" stroke-width="1.25"/>
<circle cx="581.50" cy="325.59" r="3.20" fill="none" stroke="#000" stroke-width="1.25"/>
<circle cx="599.60" cy="320.16" r="3.20" fill="none" stroke="#000" stroke-width="1.25"/>
<circle cx="617.70" cy="318.81" r="3.20" fill="none" stroke="#000" stroke-width="1.25"/>
<path d="M450.90 413.83L458.70 413.83L454.80 420.93Z" fill="none" stroke="#000" stroke-width="1.25"/>
<path d="M469.00 411.66L476.80 411.66L472.90 418.76Z" fill="none" stroke="#000" stroke-width="1.25"/>
<path d="M487.10 407.05L494.90 407.05L491.00 414.15Z" fill="none" stroke="#000" stroke-width="1.25"/>
<path d="M505.20 399.18L513.00 399.18L509.10 406.28Z" fill="none" stroke="#000" stroke-width="1.25"/>
<path d="M523.30 383.98L531.10 383.98L527.20 391.08Z" fill="none" stroke="#000" stroke-width="1.25"/>
<path d="M541.40 361.73L549.20 361.73L545.30 368.83Z" fill="none" stroke="#000" stroke-width="1.25"/>
<path d="M559.50 334.60L567.30 334.60L563.40 341.70Z" fill="none" stroke="#000" stroke-width="1.25"/>
<path d="M577.60 318.32L585.40 318.32L581.50 325.42Z" fill="none" stroke="#000" stroke-width="1.25"/>
<path d="M595.70 312.35L603.50 312.35L599.60 319.45Z" fill="none" stroke="#000" stroke-width="1.25"/>
<path d="M613.80 309.37L621.60 309.37L617.70 316.47Z" fill="none" stroke="#000" stroke-width="1.25"/>
<path d="M450.90 413.13L458.70 420.93M450.90 420.93L458.70 413.13" stroke="#000" stroke-width="1.70" fill="none"/>
<path d="M469.00 410.96L476.80 418.76M469.00 418.76L476.80 410.96" stroke="#000" stroke-width="1.70" fill="none"/>
<path d="M487.10 406.35L494.90 414.15M487.10 414.15L494.90 406.35" stroke="#000" stroke-width="1.70" fill="none"/>
<path d="M505.20 398.48L513.00 406.28M505.20 406.28L513.00 398.48" stroke="#000" stroke-width="1.70" fill="none"/>
<path d="M523.30 381.65L531.10 389.45M523.30 389.45L531.10 381.65" stroke="#000" stroke-width="1.70" fill="none"/>
<path d="M541.40 359.13L549.20 366.93M541.40 366.93L549.20 359.13" stroke="#000" stroke-width="1.70" fill="none"/>
<path d="M559.50 336.07L567.30 343.87M559.50 343.87L567.30 336.07" stroke="#000" stroke-width="1.70" fill="none"/>
<path d="M577.60 321.69L585.40 329.49M577.60 329.49L585.40 321.69" stroke="#000" stroke-width="1.70" fill="none"/>
<path d="M595.70 318.43L603.50 326.23M595.70 326.23L603.50 318.43" stroke="#000" stroke-width="1.70" fill="none"/>
<path d="M613.80 318.16L621.60 325.96M613.80 325.96L621.60 318.16" stroke="#000" stroke-width="1.70" fill="none"/>
<path d="M187.10 465.10V637.20" stroke="#000" stroke-width="2" fill="none"/>
<path d="M186.10 636.20H358.40" stroke="#000" stroke-width="2" fill="none"/>
<path d="M183.10 636.20H187.10" stroke="#000" stroke-width="1.7"/>
<text x="181.80" y="640.40" class="tk" text-anchor="end">0.00</text>
<path d="M183.10 595.23H187.10" stroke="#000" stroke-width="1.7"/>
<text x="181.80" y="599.43" class="tk" text-anchor="end">0.15</text>
<path d="M183.10 554.25H187.10" stroke="#000" stroke-width="1.7"/>
<text x="181.80" y="558.45" class="tk" text-anchor="end">0.30</text>
<path d="M183.10 513.27H187.10" stroke="#000" stroke-width="1.7"/>
<text x="181.80" y="517.48" class="tk" text-anchor="end">0.45</text>
<path d="M183.10 472.30H187.10" stroke="#000" stroke-width="1.7"/>
<text x="181.80" y="476.50" class="tk" text-anchor="end">0.60</text>
<path d="M187.30 636.20V640.50" stroke="#000" stroke-width="1.7"/>
<text x="187.30" y="651.70" class="tk" text-anchor="middle">0</text>
<path d="M228.12 636.20V640.50" stroke="#000" stroke-width="1.7"/>
<text x="228.12" y="651.70" class="tk" text-anchor="middle">90</text>
<path d="M268.95 636.20V640.50" stroke="#000" stroke-width="1.7"/>
<text x="268.95" y="651.70" class="tk" text-anchor="middle">180</text>
<path d="M309.78 636.20V640.50" stroke="#000" stroke-width="1.7"/>
<text x="309.78" y="651.70" class="tk" text-anchor="middle">270</text>
<path d="M350.60 636.20V640.50" stroke="#000" stroke-width="1.7"/>
<text x="350.60" y="651.70" class="tk" text-anchor="middle">360</text>
<text x="273.25" y="670.50" class="at" text-anchor="middle">Time (min)</text>
<text transform="translate(147.50 567.50) rotate(-90) scale(0.95 1)" class="at">OD<tspan font-size="10.5" dy="3.2">600</tspan></text>
<path d="M187.30 633.20L205.44 631.83L223.59 627.19L241.73 619.81L259.88 604.51L278.02 583.48L296.17 565.18L314.31 553.43L332.46 550.97L350.60 554.25" stroke="#000" stroke-width="2.1" fill="none" stroke-linejoin="round"/>
<path d="M187.30 633.20L205.44 631.83L223.59 627.19L241.73 619.81L259.88 606.15L278.02 586.48L296.17 567.91L314.31 556.44L332.46 551.52L350.60 552.34" stroke="#000" stroke-width="2.1" fill="none" stroke-linejoin="round"/>
<path d="M187.30 633.20L205.44 631.83L223.59 627.19L241.73 620.36L259.88 608.88L278.02 594.68L296.17 577.20L314.31 562.45L332.46 550.97L350.60 546.06" stroke="#000" stroke-width="2.1" fill="none" stroke-linejoin="round" stroke-dasharray="2.6 2.2"/>
<path d="M187.30 633.20L205.44 631.83L223.59 627.46L241.73 620.63L259.88 610.25L278.02 602.33L296.17 589.76L314.31 580.75L332.46 573.92L350.60 569.27" stroke="#000" stroke-width="2.1" fill="none" stroke-linejoin="round" stroke-dasharray="4.5 2 2 2"/>
<path d="M187.30 633.20L205.44 631.83L223.59 627.46L241.73 620.90L259.88 612.98L278.02 607.52L296.17 603.42L314.31 599.60L332.46 597.14L350.60 595.50" stroke="#000" stroke-width="2.1" fill="none" stroke-linejoin="round" stroke-dasharray="7 3"/>
<rect x="184.10" y="630.00" width="6.40" height="6.40" fill="#000" stroke="#000" stroke-width="0.50"/>
<rect x="202.24" y="628.63" width="6.40" height="6.40" fill="#000" stroke="#000" stroke-width="0.50"/>
<rect x="220.39" y="624.26" width="6.40" height="6.40" fill="#000" stroke="#000" stroke-width="0.50"/>
<rect x="238.53" y="617.70" width="6.40" height="6.40" fill="#000" stroke="#000" stroke-width="0.50"/>
<rect x="256.68" y="609.78" width="6.40" height="6.40" fill="#000" stroke="#000" stroke-width="0.50"/>
<rect x="274.82" y="604.32" width="6.40" height="6.40" fill="#000" stroke="#000" stroke-width="0.50"/>
<rect x="292.97" y="600.22" width="6.40" height="6.40" fill="#000" stroke="#000" stroke-width="0.50"/>
<rect x="311.11" y="596.40" width="6.40" height="6.40" fill="#000" stroke="#000" stroke-width="0.50"/>
<rect x="329.26" y="593.94" width="6.40" height="6.40" fill="#000" stroke="#000" stroke-width="0.50"/>
<rect x="347.40" y="592.30" width="6.40" height="6.40" fill="#000" stroke="#000" stroke-width="0.50"/>
<path d="M183.60 636.20L191.00 636.20L187.30 629.30Z" fill="#000" stroke="#000" stroke-width="0.50"/>
<path d="M201.74 634.83L209.14 634.83L205.44 627.93Z" fill="#000" stroke="#000" stroke-width="0.50"/>
<path d="M219.89 630.46L227.29 630.46L223.59 623.56Z" fill="#000" stroke="#000" stroke-width="0.50"/>
<path d="M238.03 623.63L245.43 623.63L241.73 616.73Z" fill="#000" stroke="#000" stroke-width="0.50"/>
<path d="M256.18 613.25L263.58 613.25L259.88 606.35Z" fill="#000" stroke="#000" stroke-width="0.50"/>
<path d="M274.32 605.33L281.72 605.33L278.02 598.43Z" fill="#000" stroke="#000" stroke-width="0.50"/>
<path d="M292.47 592.76L299.87 592.76L296.17 585.86Z" fill="#000" stroke="#000" stroke-width="0.50"/>
<path d="M310.61 583.75L318.01 583.75L314.31 576.85Z" fill="#000" stroke="#000" stroke-width="0.50"/>
<path d="M328.76 576.92L336.16 576.92L332.46 570.02Z" fill="#000" stroke="#000" stroke-width="0.50"/>
<path d="M346.90 572.27L354.30 572.27L350.60 565.37Z" fill="#000" stroke="#000" stroke-width="0.50"/>
<circle cx="187.30" cy="633.20" r="3.20" fill="#000" stroke="#000" stroke-width="0.50"/>
<circle cx="205.44" cy="631.83" r="3.20" fill="#000" stroke="#000" stroke-width="0.50"/>
<circle cx="223.59" cy="627.19" r="3.20" fill="#000" stroke="#000" stroke-width="0.50"/>
<circle cx="241.73" cy="620.36" r="3.20" fill="#000" stroke="#000" stroke-width="0.50"/>
<circle cx="259.88" cy="608.88" r="3.20" fill="#000" stroke="#000" stroke-width="0.50"/>
<circle cx="278.02" cy="594.68" r="3.20" fill="#000" stroke="#000" stroke-width="0.50"/>
<circle cx="296.17" cy="577.20" r="3.20" fill="#000" stroke="#000" stroke-width="0.50"/>
<circle cx="314.31" cy="562.45" r="3.20" fill="#000" stroke="#000" stroke-width="0.50"/>
<circle cx="332.46" cy="550.97" r="3.20" fill="#000" stroke="#000" stroke-width="0.50"/>
<circle cx="350.60" cy="546.06" r="3.20" fill="#000" stroke="#000" stroke-width="0.50"/>
<path d="M183.40 630.00L191.20 630.00L187.30 637.10Z" fill="#000" stroke="#000" stroke-width="0.50"/>
<path d="M201.54 628.63L209.34 628.63L205.44 635.73Z" fill="#000" stroke="#000" stroke-width="0.50"/>
<path d="M219.69 623.99L227.49 623.99L223.59 631.09Z" fill="#000" stroke="#000" stroke-width="0.50"/>
<path d="M237.83 616.61L245.63 616.61L241.73 623.71Z" fill="#000" stroke="#000" stroke-width="0.50"/>
<path d="M255.98 602.95L263.78 602.95L259.88 610.05Z" fill="#000" stroke="#000" stroke-width="0.50"/>
<path d="M274.12 583.28L281.92 583.28L278.02 590.38Z" fill="#000" stroke="#000" stroke-width="0.50"/>
<path d="M292.27 564.71L300.07 564.71L296.17 571.81Z" fill="#000" stroke="#000" stroke-width="0.50"/>
<path d="M310.41 553.24L318.21 553.24L314.31 560.34Z" fill="#000" stroke="#000" stroke-width="0.50"/>
<path d="M328.56 548.32L336.36 548.32L332.46 555.42Z" fill="#000" stroke="#000" stroke-width="0.50"/>
<path d="M346.70 549.14L354.50 549.14L350.60 556.24Z" fill="#000" stroke="#000" stroke-width="0.50"/>
<path d="M183.40 629.30L191.20 637.10M183.40 637.10L191.20 629.30" stroke="#000" stroke-width="1.70" fill="none"/>
<path d="M201.54 627.93L209.34 635.73M201.54 635.73L209.34 627.93" stroke="#000" stroke-width="1.70" fill="none"/>
<path d="M219.69 623.29L227.49 631.09M219.69 631.09L227.49 623.29" stroke="#000" stroke-width="1.70" fill="none"/>
<path d="M237.83 615.91L245.63 623.71M237.83 623.71L245.63 615.91" stroke="#000" stroke-width="1.70" fill="none"/>
<path d="M255.98 600.61L263.78 608.41M255.98 608.41L263.78 600.61" stroke="#000" stroke-width="1.70" fill="none"/>
<path d="M274.12 579.58L281.92 587.38M274.12 587.38L281.92 579.58" stroke="#000" stroke-width="1.70" fill="none"/>
<path d="M292.27 561.28L300.07 569.08M292.27 569.08L300.07 561.28" stroke="#000" stroke-width="1.70" fill="none"/>
<path d="M310.41 549.53L318.21 557.33M310.41 557.33L318.21 549.53" stroke="#000" stroke-width="1.70" fill="none"/>
<path d="M328.56 547.07L336.36 554.87M328.56 554.87L336.36 547.07" stroke="#000" stroke-width="1.70" fill="none"/>
<path d="M346.70 550.35L354.50 558.15M346.70 558.15L354.50 550.35" stroke="#000" stroke-width="1.70" fill="none"/>
<path d="M453.50 465.20V636.70" stroke="#000" stroke-width="2" fill="none"/>
<path d="M452.50 635.70H624.10" stroke="#000" stroke-width="2" fill="none"/>
<path d="M449.50 635.70H453.50" stroke="#000" stroke-width="1.7"/>
<text x="448.20" y="639.90" class="tk" text-anchor="end">0.00</text>
<path d="M449.50 594.95H453.50" stroke="#000" stroke-width="1.7"/>
<text x="448.20" y="599.15" class="tk" text-anchor="end">0.15</text>
<path d="M449.50 554.20H453.50" stroke="#000" stroke-width="1.7"/>
<text x="448.20" y="558.40" class="tk" text-anchor="end">0.30</text>
<path d="M449.50 513.45H453.50" stroke="#000" stroke-width="1.7"/>
<text x="448.20" y="517.65" class="tk" text-anchor="end">0.45</text>
<path d="M449.50 472.70H453.50" stroke="#000" stroke-width="1.7"/>
<text x="448.20" y="476.90" class="tk" text-anchor="end">0.60</text>
<path d="M453.60 635.70V640.00" stroke="#000" stroke-width="1.7"/>
<text x="453.60" y="651.20" class="tk" text-anchor="middle">0</text>
<path d="M494.35 635.70V640.00" stroke="#000" stroke-width="1.7"/>
<text x="494.35" y="651.20" class="tk" text-anchor="middle">90</text>
<path d="M535.10 635.70V640.00" stroke="#000" stroke-width="1.7"/>
<text x="535.10" y="651.20" class="tk" text-anchor="middle">180</text>
<path d="M575.85 635.70V640.00" stroke="#000" stroke-width="1.7"/>
<text x="575.85" y="651.20" class="tk" text-anchor="middle">270</text>
<path d="M616.60 635.70V640.00" stroke="#000" stroke-width="1.7"/>
<text x="616.60" y="651.20" class="tk" text-anchor="middle">360</text>
<text x="539.30" y="670.50" class="at" text-anchor="middle">Time (min)</text>
<text transform="translate(413.90 567.20) rotate(-90) scale(0.95 1)" class="at">OD<tspan font-size="10.5" dy="3.2">600</tspan></text>
<path d="M453.60 633.53L471.71 631.62L489.82 626.19L507.93 618.86L526.04 603.10L544.16 582.18L562.27 563.44L580.38 552.03L598.49 548.77L616.60 549.58" stroke="#000" stroke-width="2.1" fill="none" stroke-linejoin="round"/>
<path d="M453.60 633.53L471.71 631.62L489.82 626.19L507.93 619.13L526.04 605.82L544.16 586.80L562.27 567.78L580.38 555.56L598.49 550.12L616.60 551.48" stroke="#000" stroke-width="2.1" fill="none" stroke-linejoin="round"/>
<path d="M453.60 633.53L471.71 631.62L489.82 626.46L507.93 619.40L526.04 607.18L544.16 589.52L562.27 569.69L580.38 556.92L598.49 545.78L616.60 544.42" stroke="#000" stroke-width="2.1" fill="none" stroke-linejoin="round" stroke-dasharray="2.6 2.2"/>
<path d="M453.60 633.53L471.71 631.62L489.82 626.46L507.93 619.40L526.04 608.53L544.16 596.04L562.27 580.55L580.38 569.41L598.49 559.63L616.60 555.29" stroke="#000" stroke-width="2.1" fill="none" stroke-linejoin="round" stroke-dasharray="4.5 2 2 2"/>
<path d="M453.60 633.53L471.71 631.62L489.82 626.46L507.93 619.40L526.04 608.53L544.16 592.23L562.27 571.86L580.38 559.63L598.49 552.84L616.60 554.20" stroke="#000" stroke-width="2.1" fill="none" stroke-linejoin="round" stroke-dasharray="7 3"/>
<rect x="450.40" y="630.33" width="6.40" height="6.40" fill="none" stroke="#000" stroke-width="1.25"/>
<rect x="468.51" y="628.42" width="6.40" height="6.40" fill="none" stroke="#000" stroke-width="1.25"/>
<rect x="486.62" y="623.26" width="6.40" height="6.40" fill="none" stroke="#000" stroke-width="1.25"/>
<rect x="504.73" y="616.20" width="6.40" height="6.40" fill="none" stroke="#000" stroke-width="1.25"/>
<rect x="522.84" y="605.33" width="6.40" height="6.40" fill="none" stroke="#000" stroke-width="1.25"/>
<rect x="540.96" y="589.03" width="6.40" height="6.40" fill="none" stroke="#000" stroke-width="1.25"/>
<rect x="559.07" y="568.66" width="6.40" height="6.40" fill="none" stroke="#000" stroke-width="1.25"/>
<rect x="577.18" y="556.43" width="6.40" height="6.40" fill="none" stroke="#000" stroke-width="1.25"/>
<rect x="595.29" y="549.64" width="6.40" height="6.40" fill="none" stroke="#000" stroke-width="1.25"/>
<rect x="613.40" y="551.00" width="6.40" height="6.40" fill="none" stroke="#000" stroke-width="1.25"/>
<path d="M449.90 636.53L457.30 636.53L453.60 629.63Z" fill="none" stroke="#000" stroke-width="1.25"/>
<path d="M468.01 634.62L475.41 634.62L471.71 627.73Z" fill="none" stroke="#000" stroke-width="1.25"/>
<path d="M486.12 629.46L493.52 629.46L489.82 622.56Z" fill="none" stroke="#000" stroke-width="1.25"/>
<path d="M504.23 622.40L511.63 622.40L507.93 615.50Z" fill="none" stroke="#000" stroke-width="1.25"/>
<path d="M522.34 611.53L529.74 611.53L526.04 604.63Z" fill="none" stroke="#000" stroke-width="1.25"/>
<path d="M540.46 599.04L547.86 599.04L544.16 592.14Z" fill="none" stroke="#000" stroke-width="1.25"/>
<path d="M558.57 583.55L565.97 583.55L562.27 576.65Z" fill="none" stroke="#000" stroke-width="1.25"/>
<path d="M576.68 572.41L584.08 572.41L580.38 565.51Z" fill="none" stroke="#000" stroke-width="1.25"/>
<path d="M594.79 562.63L602.19 562.63L598.49 555.73Z" fill="none" stroke="#000" stroke-width="1.25"/>
<path d="M612.90 558.29L620.30 558.29L616.60 551.39Z" fill="none" stroke="#000" stroke-width="1.25"/>
<circle cx="453.60" cy="633.53" r="3.20" fill="none" stroke="#000" stroke-width="1.25"/>
<circle cx="471.71" cy="631.62" r="3.20" fill="none" stroke="#000" stroke-width="1.25"/>
<circle cx="489.82" cy="626.46" r="3.20" fill="none" stroke="#000" stroke-width="1.25"/>
<circle cx="507.93" cy="619.40" r="3.20" fill="none" stroke="#000" stroke-width="1.25"/>
<circle cx="526.04" cy="607.18" r="3.20" fill="none" stroke="#000" stroke-width="1.25"/>
<circle cx="544.16" cy="589.52" r="3.20" fill="none" stroke="#000" stroke-width="1.25"/>
<circle cx="562.27" cy="569.69" r="3.20" fill="none" stroke="#000" stroke-width="1.25"/>
<circle cx="580.38" cy="556.92" r="3.20" fill="none" stroke="#000" stroke-width="1.25"/>
<circle cx="598.49" cy="545.78" r="3.20" fill="none" stroke="#000" stroke-width="1.25"/>
<circle cx="616.60" cy="544.42" r="3.20" fill="none" stroke="#000" stroke-width="1.25"/>
<path d="M449.70 630.33L457.50 630.33L453.60 637.43Z" fill="none" stroke="#000" stroke-width="1.25"/>
<path d="M467.81 628.42L475.61 628.42L471.71 635.52Z" fill="none" stroke="#000" stroke-width="1.25"/>
<path d="M485.92 622.99L493.72 622.99L489.82 630.09Z" fill="none" stroke="#000" stroke-width="1.25"/>
<path d="M504.03 615.93L511.83 615.93L507.93 623.03Z" fill="none" stroke="#000" stroke-width="1.25"/>
<path d="M522.14 602.62L529.94 602.62L526.04 609.72Z" fill="none" stroke="#000" stroke-width="1.25"/>
<path d="M540.26 583.60L548.06 583.60L544.16 590.70Z" fill="none" stroke="#000" stroke-width="1.25"/>
<path d="M558.37 564.58L566.17 564.58L562.27 571.68Z" fill="none" stroke="#000" stroke-width="1.25"/>
<path d="M576.48 552.36L584.28 552.36L580.38 559.46Z" fill="none" stroke="#000" stroke-width="1.25"/>
<path d="M594.59 546.92L602.39 546.92L598.49 554.02Z" fill="none" stroke="#000" stroke-width="1.25"/>
<path d="M612.70 548.28L620.50 548.28L616.60 555.38Z" fill="none" stroke="#000" stroke-width="1.25"/>
<path d="M449.70 629.63L457.50 637.43M449.70 637.43L457.50 629.63" stroke="#000" stroke-width="1.70" fill="none"/>
<path d="M467.81 627.73L475.61 635.52M467.81 635.52L475.61 627.73" stroke="#000" stroke-width="1.70" fill="none"/>
<path d="M485.92 622.29L493.72 630.09M485.92 630.09L493.72 622.29" stroke="#000" stroke-width="1.70" fill="none"/>
<path d="M504.03 614.96L511.83 622.76M504.03 622.76L511.83 614.96" stroke="#000" stroke-width="1.70" fill="none"/>
<path d="M522.14 599.20L529.94 607.00M522.14 607.00L529.94 599.20" stroke="#000" stroke-width="1.70" fill="none"/>
<path d="M540.26 578.28L548.06 586.08M540.26 586.08L548.06 578.28" stroke="#000" stroke-width="1.70" fill="none"/>
<path d="M558.37 559.54L566.17 567.34M558.37 567.34L566.17 559.54" stroke="#000" stroke-width="1.70" fill="none"/>
<path d="M576.48 548.13L584.28 555.93M576.48 555.93L584.28 548.13" stroke="#000" stroke-width="1.70" fill="none"/>
<path d="M594.59 544.87L602.39 552.67M594.59 552.67L602.39 544.87" stroke="#000" stroke-width="1.70" fill="none"/>
<path d="M612.70 545.68L620.50 553.48M612.70 553.48L620.50 545.68" stroke="#000" stroke-width="1.70" fill="none"/>
<path d="M187.40 679.30V852.90" stroke="#000" stroke-width="2" fill="none"/>
<path d="M186.40 851.90H360.20" stroke="#000" stroke-width="2" fill="none"/>
<path d="M183.40 851.90H187.40" stroke="#000" stroke-width="1.7"/>
<text x="182.10" y="856.10" class="tk" text-anchor="end">0.00</text>
<path d="M183.40 810.65H187.40" stroke="#000" stroke-width="1.7"/>
<text x="182.10" y="814.85" class="tk" text-anchor="end">0.15</text>
<path d="M183.40 769.40H187.40" stroke="#000" stroke-width="1.7"/>
<text x="182.10" y="773.60" class="tk" text-anchor="end">0.30</text>
<path d="M183.40 728.15H187.40" stroke="#000" stroke-width="1.7"/>
<text x="182.10" y="732.35" class="tk" text-anchor="end">0.45</text>
<path d="M183.40 686.90H187.40" stroke="#000" stroke-width="1.7"/>
<text x="182.10" y="691.10" class="tk" text-anchor="end">0.60</text>
<path d="M187.40 851.90V856.20" stroke="#000" stroke-width="1.7"/>
<text x="187.40" y="867.40" class="tk" text-anchor="middle">0</text>
<path d="M228.62 851.90V856.20" stroke="#000" stroke-width="1.7"/>
<text x="228.62" y="867.40" class="tk" text-anchor="middle">90</text>
<path d="M269.85 851.90V856.20" stroke="#000" stroke-width="1.7"/>
<text x="269.85" y="867.40" class="tk" text-anchor="middle">180</text>
<path d="M311.07 851.90V856.20" stroke="#000" stroke-width="1.7"/>
<text x="311.07" y="867.40" class="tk" text-anchor="middle">270</text>
<path d="M352.30 851.90V856.20" stroke="#000" stroke-width="1.7"/>
<text x="352.30" y="867.40" class="tk" text-anchor="middle">360</text>
<text x="274.30" y="884.70" class="at" text-anchor="middle">Time (min)</text>
<text transform="translate(147.80 782.60) rotate(-90) scale(0.95 1)" class="at">OD<tspan font-size="10.5" dy="3.2">600</tspan></text>
<path d="M187.40 848.60L205.72 846.95L224.04 843.65L242.37 836.50L260.69 825.23L279.01 812.85L297.33 799.65L315.66 787.82L333.98 782.05L352.30 780.95" stroke="#000" stroke-width="2.1" fill="none" stroke-linejoin="round"/>
<path d="M187.40 848.60L205.72 846.95L224.04 843.65L242.37 836.50L260.69 825.23L279.01 813.40L297.33 800.20L315.66 788.38L333.98 782.05L352.30 780.40" stroke="#000" stroke-width="2.1" fill="none" stroke-linejoin="round"/>
<path d="M187.40 848.60L205.72 846.95L224.04 843.65L242.37 836.50L260.69 828.52L279.01 818.07L297.33 810.38L315.66 802.40L333.98 796.62L352.30 792.77" stroke="#000" stroke-width="2.1" fill="none" stroke-linejoin="round" stroke-dasharray="2.6 2.2"/>
<path d="M187.40 848.60L205.72 846.95L224.04 843.65L242.37 836.77L260.69 830.73L279.01 826.05L297.33 820.55L315.66 816.70L333.98 812.57L352.30 809.55" stroke="#000" stroke-width="2.1" fill="none" stroke-linejoin="round" stroke-dasharray="4.5 2 2 2"/>
<path d="M187.40 842.27L205.72 846.95L224.04 843.65L242.37 838.42L260.69 834.57L279.01 831.27L297.33 829.35L315.66 827.42L333.98 825.50L352.30 825.23" stroke="#000" stroke-width="2.1" fill="none" stroke-linejoin="round" stroke-dasharray="7 3"/>
<path d="M187.40 842.27V833.20M183.60 833.20H191.20" stroke="#000" stroke-width="1.3" fill="none"/>
<rect x="184.20" y="839.07" width="6.40" height="6.40" fill="#000" stroke="#000" stroke-width="0.50"/>
<rect x="202.52" y="843.75" width="6.40" height="6.40" fill="#000" stroke="#000" stroke-width="0.50"/>
<rect x="220.84" y="840.45" width="6.40" height="6.40" fill="#000" stroke="#000" stroke-width="0.50"/>
<rect x="239.17" y="835.22" width="6.40" height="6.40" fill="#000" stroke="#000" stroke-width="0.50"/>
<rect x="257.49" y="831.37" width="6.40" height="6.40" fill="#000" stroke="#000" stroke-width="0.50"/>
<rect x="275.81" y="828.07" width="6.40" height="6.40" fill="#000" stroke="#000" stroke-width="0.50"/>
<rect x="294.13" y="826.15" width="6.40" height="6.40" fill="#000" stroke="#000" stroke-width="0.50"/>
<rect x="312.46" y="824.22" width="6.40" height="6.40" fill="#000" stroke="#000" stroke-width="0.50"/>
<rect x="330.78" y="822.30" width="6.40" height="6.40" fill="#000" stroke="#000" stroke-width="0.50"/>
<rect x="349.10" y="822.02" width="6.40" height="6.40" fill="#000" stroke="#000" stroke-width="0.50"/>
<path d="M183.70 851.60L191.10 851.60L187.40 844.70Z" fill="#000" stroke="#000" stroke-width="0.50"/>
<path d="M202.02 849.95L209.42 849.95L205.72 843.05Z" fill="#000" stroke="#000" stroke-width="0.50"/>
<path d="M220.34 846.65L227.74 846.65L224.04 839.75Z" fill="#000" stroke="#000" stroke-width="0.50"/>
<path d="M238.67 839.77L246.07 839.77L242.37 832.88Z" fill="#000" stroke="#000" stroke-width="0.50"/>
<path d="M256.99 833.73L264.39 833.73L260.69 826.83Z" fill="#000" stroke="#000" stroke-width="0.50"/>
<path d="M275.31 829.05L282.71 829.05L279.01 822.15Z" fill="#000" stroke="#000" stroke-width="0.50"/>
<path d="M293.63 823.55L301.03 823.55L297.33 816.65Z" fill="#000" stroke="#000" stroke-width="0.50"/>
<path d="M311.96 819.70L319.36 819.70L315.66 812.80Z" fill="#000" stroke="#000" stroke-width="0.50"/>
<path d="M330.28 815.57L337.68 815.57L333.98 808.67Z" fill="#000" stroke="#000" stroke-width="0.50"/>
<path d="M348.60 812.55L356.00 812.55L352.30 805.65Z" fill="#000" stroke="#000" stroke-width="0.50"/>
<circle cx="187.40" cy="848.60" r="3.20" fill="#000" stroke="#000" stroke-width="0.50"/>
<circle cx="205.72" cy="846.95" r="3.20" fill="#000" stroke="#000" stroke-width="0.50"/>
<circle cx="224.04" cy="843.65" r="3.20" fill="#000" stroke="#000" stroke-width="0.50"/>
<circle cx="242.37" cy="836.50" r="3.20" fill="#000" stroke="#000" stroke-width="0.50"/>
<circle cx="260.69" cy="828.52" r="3.20" fill="#000" stroke="#000" stroke-width="0.50"/>
<circle cx="279.01" cy="818.07" r="3.20" fill="#000" stroke="#000" stroke-width="0.50"/>
<circle cx="297.33" cy="810.38" r="3.20" fill="#000" stroke="#000" stroke-width="0.50"/>
<circle cx="315.66" cy="802.40" r="3.20" fill="#000" stroke="#000" stroke-width="0.50"/>
<circle cx="333.98" cy="796.62" r="3.20" fill="#000" stroke="#000" stroke-width="0.50"/>
<circle cx="352.30" cy="792.77" r="3.20" fill="#000" stroke="#000" stroke-width="0.50"/>
<path d="M183.50 845.40L191.30 845.40L187.40 852.50Z" fill="#000" stroke="#000" stroke-width="0.50"/>
<path d="M201.82 843.75L209.62 843.75L205.72 850.85Z" fill="#000" stroke="#000" stroke-width="0.50"/>
<path d="M220.14 840.45L227.94 840.45L224.04 847.55Z" fill="#000" stroke="#000" stroke-width="0.50"/>
<path d="M238.47 833.30L246.27 833.30L242.37 840.40Z" fill="#000" stroke="#000" stroke-width="0.50"/>
<path d="M256.79 822.02L264.59 822.02L260.69 829.12Z" fill="#000" stroke="#000" stroke-width="0.50"/>
<path d="M275.11 810.20L282.91 810.20L279.01 817.30Z" fill="#000" stroke="#000" stroke-width="0.50"/>
<path d="M293.43 797.00L301.23 797.00L297.33 804.10Z" fill="#000" stroke="#000" stroke-width="0.50"/>
<path d="M311.76 785.17L319.56 785.17L315.66 792.27Z" fill="#000" stroke="#000" stroke-width="0.50"/>
<path d="M330.08 778.85L337.88 778.85L333.98 785.95Z" fill="#000" stroke="#000" stroke-width="0.50"/>
<path d="M348.40 777.20L356.20 777.20L352.30 784.30Z" fill="#000" stroke="#000" stroke-width="0.50"/>
<path d="M183.50 844.70L191.30 852.50M183.50 852.50L191.30 844.70" stroke="#000" stroke-width="1.70" fill="none"/>
<path d="M201.82 843.05L209.62 850.85M201.82 850.85L209.62 843.05" stroke="#000" stroke-width="1.70" fill="none"/>
<path d="M220.14 839.75L227.94 847.55M220.14 847.55L227.94 839.75" stroke="#000" stroke-width="1.70" fill="none"/>
<path d="M238.47 832.60L246.27 840.40M238.47 840.40L246.27 832.60" stroke="#000" stroke-width="1.70" fill="none"/>
<path d="M256.79 821.33L264.59 829.12M256.79 829.12L264.59 821.33" stroke="#000" stroke-width="1.70" fill="none"/>
<path d="M275.11 808.95L282.91 816.75M275.11 816.75L282.91 808.95" stroke="#000" stroke-width="1.70" fill="none"/>
<path d="M293.43 795.75L301.23 803.55M293.43 803.55L301.23 795.75" stroke="#000" stroke-width="1.70" fill="none"/>
<path d="M311.76 783.92L319.56 791.72M311.76 791.72L319.56 783.92" stroke="#000" stroke-width="1.70" fill="none"/>
<path d="M330.08 778.15L337.88 785.95M330.08 785.95L337.88 778.15" stroke="#000" stroke-width="1.70" fill="none"/>
<path d="M348.40 777.05L356.20 784.85M348.40 784.85L356.20 777.05" stroke="#000" stroke-width="1.70" fill="none"/>
<path d="M455.20 679.30V852.50" stroke="#000" stroke-width="2" fill="none"/>
<path d="M454.20 851.50H627.70" stroke="#000" stroke-width="2" fill="none"/>
<path d="M451.20 851.50H455.20" stroke="#000" stroke-width="1.7"/>
<text x="449.90" y="855.70" class="tk" text-anchor="end">0.00</text>
<path d="M451.20 810.30H455.20" stroke="#000" stroke-width="1.7"/>
<text x="449.90" y="814.50" class="tk" text-anchor="end">0.15</text>
<path d="M451.20 769.10H455.20" stroke="#000" stroke-width="1.7"/>
<text x="449.90" y="773.30" class="tk" text-anchor="end">0.30</text>
<path d="M451.20 727.90H455.20" stroke="#000" stroke-width="1.7"/>
<text x="449.90" y="732.10" class="tk" text-anchor="end">0.45</text>
<path d="M451.20 686.70H455.20" stroke="#000" stroke-width="1.7"/>
<text x="449.90" y="690.90" class="tk" text-anchor="end">0.60</text>
<path d="M455.20 851.50V855.80" stroke="#000" stroke-width="1.7"/>
<text x="455.20" y="867.00" class="tk" text-anchor="middle">0</text>
<path d="M496.35 851.50V855.80" stroke="#000" stroke-width="1.7"/>
<text x="496.35" y="867.00" class="tk" text-anchor="middle">90</text>
<path d="M537.50 851.50V855.80" stroke="#000" stroke-width="1.7"/>
<text x="537.50" y="867.00" class="tk" text-anchor="middle">180</text>
<path d="M578.65 851.50V855.80" stroke="#000" stroke-width="1.7"/>
<text x="578.65" y="867.00" class="tk" text-anchor="middle">270</text>
<path d="M619.80 851.50V855.80" stroke="#000" stroke-width="1.7"/>
<text x="619.80" y="867.00" class="tk" text-anchor="middle">360</text>
<text x="541.95" y="886.80" class="at" text-anchor="middle">Time (min)</text>
<text transform="translate(415.60 782.70) rotate(-90) scale(0.95 1)" class="at">OD<tspan font-size="10.5" dy="3.2">600</tspan></text>
<path d="M455.20 847.93L473.49 846.83L491.78 842.71L510.07 835.02L528.36 825.68L546.64 812.50L564.93 800.14L583.22 788.60L601.51 782.01L619.80 779.54" stroke="#000" stroke-width="2.1" fill="none" stroke-linejoin="round"/>
<path d="M455.20 847.93L473.49 846.83L491.78 842.71L510.07 835.02L528.36 825.68L546.64 812.50L564.93 800.14L583.22 788.60L601.51 781.46L619.80 778.71" stroke="#000" stroke-width="2.1" fill="none" stroke-linejoin="round"/>
<path d="M455.20 847.93L473.49 846.83L491.78 842.71L510.07 835.02L528.36 825.68L546.64 813.05L564.93 800.69L583.22 787.78L601.51 777.61L619.80 772.95" stroke="#000" stroke-width="2.1" fill="none" stroke-linejoin="round" stroke-dasharray="2.6 2.2"/>
<path d="M455.20 847.93L473.49 846.83L491.78 842.71L510.07 835.57L528.36 826.78L546.64 820.19L564.93 812.50L583.22 805.91L601.51 800.14L619.80 796.29" stroke="#000" stroke-width="2.1" fill="none" stroke-linejoin="round" stroke-dasharray="4.5 2 2 2"/>
<path d="M455.20 847.93L473.49 846.83L491.78 842.71L510.07 835.02L528.36 825.68L546.64 813.05L564.93 801.51L583.22 792.45L601.51 785.85L619.80 782.01" stroke="#000" stroke-width="2.1" fill="none" stroke-linejoin="round" stroke-dasharray="7 3"/>
<rect x="452.00" y="844.73" width="6.40" height="6.40" fill="none" stroke="#000" stroke-width="1.25"/>
<rect x="470.29" y="843.63" width="6.40" height="6.40" fill="none" stroke="#000" stroke-width="1.25"/>
<rect x="488.58" y="839.51" width="6.40" height="6.40" fill="none" stroke="#000" stroke-width="1.25"/>
<rect x="506.87" y="831.82" width="6.40" height="6.40" fill="none" stroke="#000" stroke-width="1.25"/>
<rect x="525.16" y="822.48" width="6.40" height="6.40" fill="none" stroke="#000" stroke-width="1.25"/>
<rect x="543.44" y="809.85" width="6.40" height="6.40" fill="none" stroke="#000" stroke-width="1.25"/>
<rect x="561.73" y="798.31" width="6.40" height="6.40" fill="none" stroke="#000" stroke-width="1.25"/>
<rect x="580.02" y="789.25" width="6.40" height="6.40" fill="none" stroke="#000" stroke-width="1.25"/>
<rect x="598.31" y="782.65" width="6.40" height="6.40" fill="none" stroke="#000" stroke-width="1.25"/>
<rect x="616.60" y="778.81" width="6.40" height="6.40" fill="none" stroke="#000" stroke-width="1.25"/>
<path d="M451.50 850.93L458.90 850.93L455.20 844.03Z" fill="none" stroke="#000" stroke-width="1.25"/>
<path d="M469.79 849.83L477.19 849.83L473.49 842.93Z" fill="none" stroke="#000" stroke-width="1.25"/>
<path d="M488.08 845.71L495.48 845.71L491.78 838.81Z" fill="none" stroke="#000" stroke-width="1.25"/>
<path d="M506.37 838.57L513.77 838.57L510.07 831.67Z" fill="none" stroke="#000" stroke-width="1.25"/>
<path d="M524.66 829.78L532.06 829.78L528.36 822.88Z" fill="none" stroke="#000" stroke-width="1.25"/>
<path d="M542.94 823.19L550.34 823.19L546.64 816.29Z" fill="none" stroke="#000" stroke-width="1.25"/>
<path d="M561.23 815.50L568.63 815.50L564.93 808.60Z" fill="none" stroke="#000" stroke-width="1.25"/>
<path d="M579.52 808.91L586.92 808.91L583.22 802.01Z" fill="none" stroke="#000" stroke-width="1.25"/>
<path d="M597.81 803.14L605.21 803.14L601.51 796.24Z" fill="none" stroke="#000" stroke-width="1.25"/>
<path d="M616.10 799.29L623.50 799.29L619.80 792.39Z" fill="none" stroke="#000" stroke-width="1.25"/>
<circle cx="455.20" cy="847.93" r="3.20" fill="none" stroke="#000" stroke-width="1.25"/>
<circle cx="473.49" cy="846.83" r="3.20" fill="none" stroke="#000" stroke-width="1.25"/>
<circle cx="491.78" cy="842.71" r="3.20" fill="none" stroke="#000" stroke-width="1.25"/>
<circle cx="510.07" cy="835.02" r="3.20" fill="none" stroke="#000" stroke-width="1.25"/>
<circle cx="528.36" cy="825.68" r="3.20" fill="none" stroke="#000" stroke-width="1.25"/>
<circle cx="546.64" cy="813.05" r="3.20" fill="none" stroke="#000" stroke-width="1.25"/>
<circle cx="564.93" cy="800.69" r="3.20" fill="none" stroke="#000" stroke-width="1.25"/>
<circle cx="583.22" cy="787.78" r="3.20" fill="none" stroke="#000" stroke-width="1.25"/>
<circle cx="601.51" cy="777.61" r="3.20" fill="none" stroke="#000" stroke-width="1.25"/>
<circle cx="619.80" cy="772.95" r="3.20" fill="none" stroke="#000" stroke-width="1.25"/>
<path d="M451.30 844.73L459.10 844.73L455.20 851.83Z" fill="none" stroke="#000" stroke-width="1.25"/>
<path d="M469.59 843.63L477.39 843.63L473.49 850.73Z" fill="none" stroke="#000" stroke-width="1.25"/>
<path d="M487.88 839.51L495.68 839.51L491.78 846.61Z" fill="none" stroke="#000" stroke-width="1.25"/>
<path d="M506.17 831.82L513.97 831.82L510.07 838.92Z" fill="none" stroke="#000" stroke-width="1.25"/>
<path d="M524.46 822.48L532.26 822.48L528.36 829.58Z" fill="none" stroke="#000" stroke-width="1.25"/>
<path d="M542.74 809.30L550.54 809.30L546.64 816.40Z" fill="none" stroke="#000" stroke-width="1.25"/>
<path d="M561.03 796.94L568.83 796.94L564.93 804.04Z" fill="none" stroke="#000" stroke-width="1.25"/>
<path d="M579.32 785.40L587.12 785.40L583.22 792.50Z" fill="none" stroke="#000" stroke-width="1.25"/>
<path d="M597.61 778.26L605.41 778.26L601.51 785.36Z" fill="none" stroke="#000" stroke-width="1.25"/>
<path d="M615.90 775.51L623.70 775.51L619.80 782.61Z" fill="none" stroke="#000" stroke-width="1.25"/>
<path d="M451.30 844.03L459.10 851.83M451.30 851.83L459.10 844.03" stroke="#000" stroke-width="1.70" fill="none"/>
<path d="M469.59 842.93L477.39 850.73M469.59 850.73L477.39 842.93" stroke="#000" stroke-width="1.70" fill="none"/>
<path d="M487.88 838.81L495.68 846.61M487.88 846.61L495.68 838.81" stroke="#000" stroke-width="1.70" fill="none"/>
<path d="M506.17 831.12L513.97 838.92M506.17 838.92L513.97 831.12" stroke="#000" stroke-width="1.70" fill="none"/>
<path d="M524.46 821.78L532.26 829.58M524.46 829.58L532.26 821.78" stroke="#000" stroke-width="1.70" fill="none"/>
<path d="M542.74 808.60L550.54 816.40M542.74 816.40L550.54 808.60" stroke="#000" stroke-width="1.70" fill="none"/>
<path d="M561.03 796.24L568.83 804.04M561.03 804.04L568.83 796.24" stroke="#000" stroke-width="1.70" fill="none"/>
<path d="M579.32 784.70L587.12 792.50M579.32 792.50L587.12 784.70" stroke="#000" stroke-width="1.70" fill="none"/>
<path d="M597.61 778.11L605.41 785.91M597.61 785.91L605.41 778.11" stroke="#000" stroke-width="1.70" fill="none"/>
<path d="M615.90 775.64L623.70 783.44M615.90 783.44L623.70 775.64" stroke="#000" stroke-width="1.70" fill="none"/>
</svg></body></html>
